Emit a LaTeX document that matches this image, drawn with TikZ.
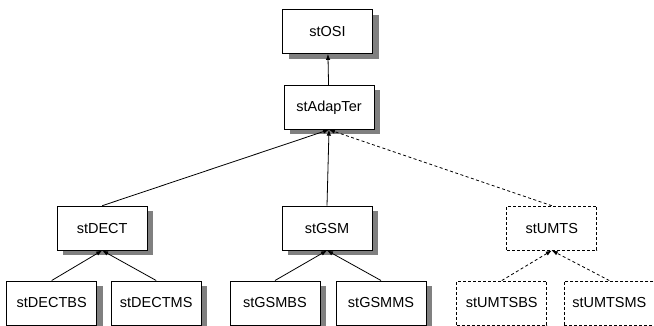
\documentclass[tikz,border=0pt]{standalone}
\usepackage{fontspec}
\setmainfont{Liberation Sans}
\usetikzlibrary{arrows.meta,positioning,shadows}

\begin{document}
\begin{tikzpicture}[
  x=1pt, y=-1pt,
  font=\fontsize{14.5}{17}\selectfont,
  statebox/.style={draw, line width=0.8pt, minimum width=90pt, minimum height=44pt, inner sep=0pt, fill=white,
    drop shadow={shadow xshift=6pt, shadow yshift=-5pt, fill=black!50, opacity=1}},
  planned/.style={draw, line width=0.8pt, dash pattern=on 3pt off 2pt, minimum width=90pt, minimum height=44pt, inner sep=0pt, fill=white},
  arrow/.style={-{Latex[length=6pt,width=4.5pt]}, line width=0.8pt},
  dasharrow/.style={-{Latex[length=6pt,width=4.5pt]}, line width=0.8pt, dash pattern=on 3pt off 2.5pt}
]
\useasboundingbox (0,0) rectangle (654,325);

\node[statebox] (osi) at (327.5,31.5) {stOSI};
\node[statebox, below=31pt of osi, xshift=1.5pt] (adapter) {stAdapTer};

\node[statebox, below=76pt of adapter, xshift=-2pt] (gsm) {stGSM};
\node[statebox, left=134pt of gsm] (dect) {stDECT};
\node[planned, right=134pt of gsm] (umts) {stUMTS};

\node[statebox, below=30pt of dect, xshift=-50.5pt] (dectbs) {stDECTBS};
\node[statebox, below=30pt of dect, xshift=54pt] (dectms) {stDECTMS};
\node[statebox, below=30pt of gsm, xshift=-52pt] (gsmbs) {stGSMBS};
\node[statebox, below=30pt of gsm, xshift=54pt] (gsmms) {stGSMMS};
\node[planned, below=30pt of umts, xshift=-50pt] (umtsbs) {stUMTSBS};
\node[planned, below=30pt of umts, xshift=57.5pt] (umtsms) {stUMTSMS};

\draw[arrow] (adapter) -- (osi);
\foreach \x in {dect,gsm} {
  \draw[arrow] (\x.north) -- (adapter.south);
}
\draw[dasharrow] (umts.north) -- (adapter.south);

\foreach \x in {dectbs,dectms} {
  \draw[arrow] (\x.north) -- (dect.south);
}
\foreach \x in {gsmbs,gsmms} {
  \draw[arrow] (\x.north) -- (gsm.south);
}
\foreach \x in {umtsbs,umtsms} {
  \draw[dasharrow] (\x.north) -- (umts.south);
}

\end{tikzpicture}
\end{document}
